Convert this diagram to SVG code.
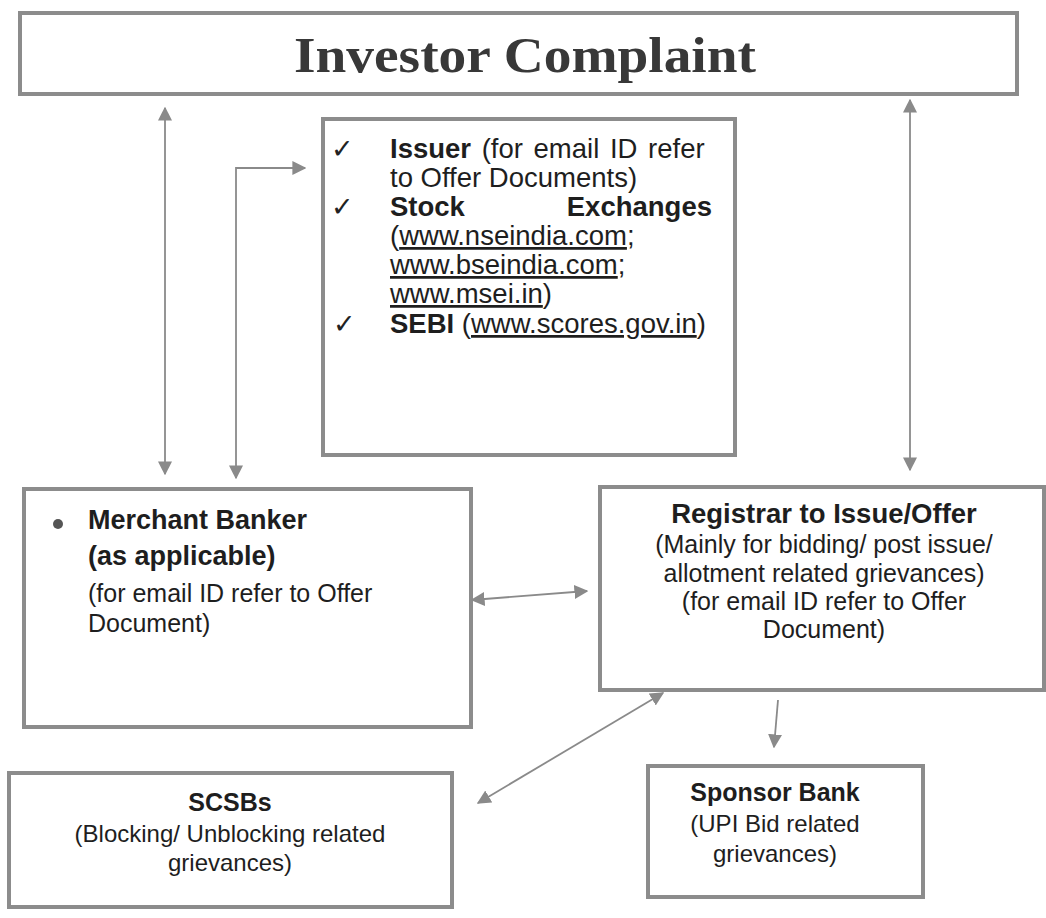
<svg xmlns="http://www.w3.org/2000/svg" width="1046" height="918" viewBox="0 0 1046 918" font-family="'Liberation Sans', Arimo, Arial, Helvetica, sans-serif">
<defs>
<style>
.box{fill:#fff;stroke:#8c8c8c;stroke-width:4}
.t{font-family:'Liberation Sans',Arimo,Arial,Helvetica,sans-serif;fill:#1e1e1e;font-size:25px}
.b{font-weight:bold}
.ck{font-family:'DejaVu Sans',sans-serif;font-size:27px;fill:#222}
.title{font-family:'Liberation Serif','Times New Roman',serif;font-weight:bold;font-size:51px;fill:#383838}
.c{fill:none;stroke:#8a8a8a;stroke-width:1.8}
.u{text-decoration:underline}
</style>
<marker id="ahb" viewBox="0 0 10 10" refX="9" refY="5" markerWidth="14" markerHeight="14" markerUnits="userSpaceOnUse" orient="auto-start-reverse">
<path d="M0,0 L10,5 L0,10 Z" fill="#8a8a8a"/>
</marker>
</defs>
<rect width="1046" height="918" fill="#fff"/>
<g id="investor-complaint">
<rect class="box" x="20" y="13" width="997" height="81"/>
<text class="title" x="525" y="72" text-anchor="middle" textLength="462" lengthAdjust="spacingAndGlyphs">Investor Complaint</text>
</g>
<g id="issuer-exchanges-sebi">
<rect class="box" x="323" y="119" width="412" height="336"/>
<text class="ck" x="331" y="158">✓</text>
<text class="ck" x="331" y="216">✓</text>
<text class="ck" x="333" y="333">✓</text>
<g class="t" style="font-size:27.5px">
<text x="390" y="158" word-spacing="3"><tspan class="b">Issuer</tspan> (for email ID refer</text>
<text x="390" y="187">to Offer Documents)</text>
<text x="390" y="216" class="b">Stock</text>
<text x="712" y="216" class="b" text-anchor="end">Exchanges</text>
<text x="390" y="245">(<tspan class="u">www.nseindia.com</tspan>;</text>
<text x="390" y="274"><tspan class="u">www.bseindia.com</tspan>;</text>
<text x="390" y="303"><tspan class="u">www.msei.in</tspan>)</text>
<text x="390" y="333"><tspan class="b">SEBI</tspan> (<tspan class="u">www.scores.gov.in</tspan>)</text>
</g>
</g>
<g id="merchant-banker">
<rect class="box" x="24" y="489" width="447" height="238"/>
<circle cx="58" cy="524" r="5" fill="#555"/>
<text class="t b" x="88" y="529" style="font-size:27px">Merchant Banker</text>
<text class="t b" x="88" y="565" style="font-size:27px">(as applicable)</text>
<text class="t" x="88" y="602">(for email ID refer to Offer</text>
<text class="t" x="88" y="632">Document)</text>
</g>
<g id="registrar">
<rect class="box" x="600" y="487" width="444" height="203"/>
<g class="t" text-anchor="middle">
<text class="b" x="824" y="523" style="font-size:27.5px">Registrar to Issue/Offer</text>
<text x="824" y="553">(Mainly for bidding/ post issue/</text>
<text x="824" y="582">allotment related grievances)</text>
<text x="824" y="610">(for email ID refer to Offer</text>
<text x="824" y="638">Document)</text>
</g>
</g>
<g id="scsbs">
<rect class="box" x="9" y="773" width="443" height="134"/>
<g class="t" text-anchor="middle" style="font-size:24px">
<text class="b" x="230" y="811" style="font-size:25px">SCSBs</text>
<text x="230" y="842">(Blocking/ Unblocking related</text>
<text x="230" y="871">grievances)</text>
</g>
</g>
<g id="sponsor-bank">
<rect class="box" x="648" y="766" width="275" height="131"/>
<g class="t" text-anchor="middle" style="font-size:24px">
<text class="b" x="775" y="801" style="font-size:25px">Sponsor Bank</text>
<text x="775" y="832">(UPI Bid related</text>
<text x="775" y="862">grievances)</text>
</g>
</g>
<g id="connectors">
<line class="c" x1="165" y1="108" x2="165" y2="474" marker-start="url(#ahb)" marker-end="url(#ahb)"/>
<polyline class="c" points="305,168 236,168 236,478" marker-start="url(#ahb)" marker-end="url(#ahb)"/>
<line class="c" x1="910" y1="100" x2="910" y2="470" marker-start="url(#ahb)" marker-end="url(#ahb)"/>
<line class="c" x1="472" y1="600" x2="587" y2="591" marker-start="url(#ahb)" marker-end="url(#ahb)"/>
<line class="c" x1="478" y1="803" x2="663" y2="693" marker-start="url(#ahb)" marker-end="url(#ahb)"/>
<line class="c" x1="778" y1="700" x2="774" y2="747" marker-end="url(#ahb)"/>
</g>
</svg>
